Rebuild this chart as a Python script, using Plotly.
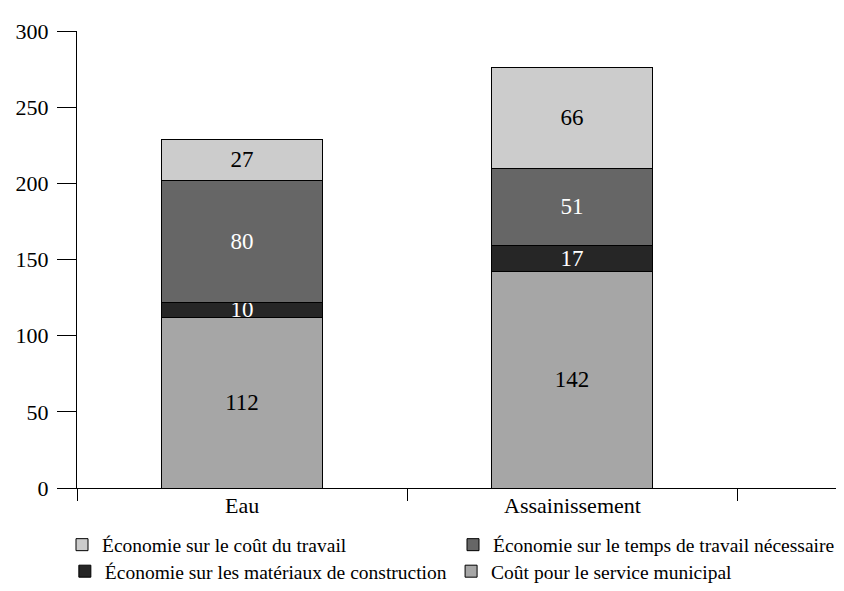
import plotly.graph_objects as go

categories = ["Eau", "Assainissement"]
series_names = [
    "Coût pour le service municipal",
    "Économie sur les matériaux de construction",
    "Économie sur le temps de travail nécessaire",
    "Économie sur le coût du travail",
]
service = [112, 142]
materiaux = [10, 17]
temps = [80, 51]
travail = [27, 66]
colors = ["#a6a6a6", "#262626", "#666666", "#cccccc"]
text_colors = ["black", "white", "white", "black"]
legend_ids = ["legend3", "legend2", "legend", "legend"]
y_ticks = [0, 50, 100, 150, 200, 250, 300]

FONT = "Liberation Serif"
xpos = list(range(len(categories)))

fig = go.Figure()
for name, vals, col, tcol, lg in zip(series_names, [service, materiaux, temps, travail], colors, text_colors, legend_ids):
    fig.add_trace(go.Bar(
        x=xpos, y=vals, name=name, width=0.488, legend=lg,
        marker=dict(color=col, line=dict(color="black", width=1)),
        text=[str(v) for v in vals], textposition="inside", insidetextanchor="middle",
        textangle=0,
        textfont=dict(family=FONT, size=23, color=tcol),
        hoverinfo="skip",
    ))

for i, c in enumerate(categories):
    fig.add_annotation(x=i, y=0, xref="x", yref="paper", yanchor="top", yshift=-3,
                       text=c, showarrow=False, font=dict(family=FONT, size=22, color="black"))

leg_common = dict(orientation="h", traceorder="reversed", xanchor="left",
                  entrywidth=346, entrywidthmode="pixels", font=dict(family=FONT, size=19.5),
                  itemwidth=30, bgcolor="rgba(0,0,0,0)")

fig.update_layout(
    barmode="stack",
    width=836, height=583,
    margin=dict(l=69, r=4, t=23, b=103),
    plot_bgcolor="white", paper_bgcolor="white",
    font=dict(family=FONT, color="black"),
    uniformtext=dict(minsize=23, mode="show"),
    showlegend=True,
    legend=dict(x=-0.016, y=-0.1247, yanchor="middle", **leg_common),
    legend2=dict(x=0.068, xref="container", y=0, yref="container", yanchor="bottom", **leg_common),
    legend3=dict(x=0.530, xref="container", y=0, yref="container", yanchor="bottom", **leg_common),
    xaxis=dict(range=[-0.5, 1.812], tickmode="array", tickvals=[-0.5, 0.5, 1.5], showticklabels=False,
               ticks="outside", ticklen=12, tickcolor="black", showline=True, linecolor="black",
               linewidth=1, showgrid=False, zeroline=False),
    yaxis=dict(range=[0, 300], tickmode="array", tickvals=y_ticks, ticks="outside", ticklen=19,
               tickcolor="black", showline=True, linecolor="black", linewidth=1, showgrid=False,
               zeroline=False, tickfont=dict(family=FONT, size=22), ticklabelstandoff=4),
)

fig.write_html("out.html")
